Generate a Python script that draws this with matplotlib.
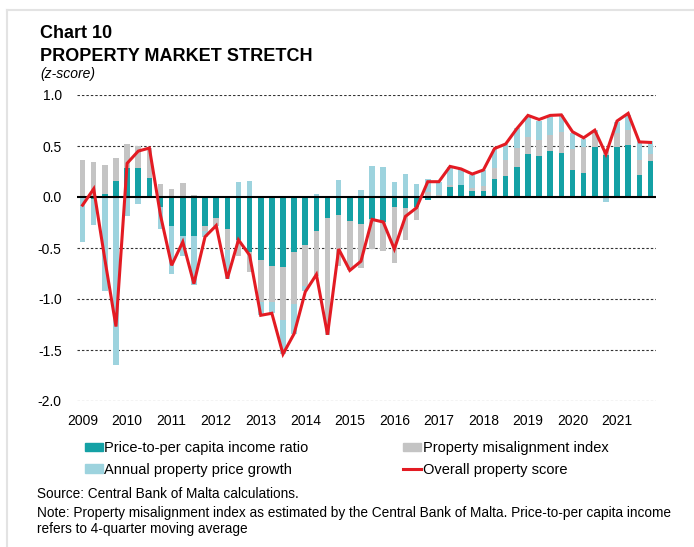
import matplotlib
matplotlib.use("Agg")
import matplotlib.pyplot as plt
import numpy as np
from matplotlib.patches import Patch
from matplotlib.lines import Line2D

plt.rcParams['font.family'] = ['Liberation Sans', 'DejaVu Sans']

years = list(range(2009, 2022))
quarters = [f"{y}Q{q}" for y in years for q in range(1, 5)]

price_income = [0.00, -0.02, 0.03, 0.16, 0.28, 0.28, 0.19, -0.10,
                -0.28, -0.38, -0.385, -0.28, -0.21, -0.31, -0.42, -0.54,
                -0.62, -0.68, -0.69, -0.54, -0.47, -0.33, -0.21, -0.18,
                -0.235, -0.26, -0.22, -0.245, -0.095, -0.105, -0.095, -0.03,
                0.01, 0.094, 0.12, 0.055, 0.06, 0.175, 0.21, 0.29,
                0.42, 0.40, 0.45, 0.435, 0.265, 0.24, 0.49, 0.41,
                0.49, 0.51, 0.22, 0.355]
misalignment = [0.36, 0.34, 0.28, 0.22, 0.24, 0.22, 0.29, 0.13,
                0.075, 0.14, 0.016, -0.05, -0.065, -0.21, -0.16, -0.20,
                -0.41, -0.35, -0.52, -0.51, -0.40, -0.44, -1.14, -0.50,
                -0.48, -0.435, -0.29, -0.285, -0.555, -0.32, -0.13, 0.045,
                0.01, 0.023, 0.0, 0.03, 0.05, 0.105, 0.155, 0.19,
                0.17, 0.155, 0.16, 0.20, 0.21, 0.25, 0.135, 0.06,
                0.135, 0.15, 0.145, 0.065]
price_growth = [-0.44, -0.25, -0.92, -1.65, -0.19, -0.07, 0.0, -0.21,
                -0.47, -0.20, -0.48, -0.06, -0.01, -0.28, 0.15, 0.16,
                -0.13, -0.11, -0.33, -0.29, -0.05, 0.03, 0.0, 0.17,
                0.0, 0.07, 0.30, 0.29, 0.15, 0.23, 0.13, 0.13,
                0.13, 0.18, 0.15, 0.13, 0.15, 0.195, 0.155, 0.195,
                0.20, 0.195, 0.17, 0.17, 0.15, 0.08, 0.03, -0.05,
                0.115, 0.14, 0.18, 0.125]
overall = [-0.08, 0.08, -0.61, -1.27, 0.33, 0.45, 0.48, -0.18,
           -0.67, -0.44, -0.85, -0.39, -0.28, -0.80, -0.42, -0.57,
           -1.16, -1.14, -1.54, -1.34, -0.93, -0.76, -1.35, -0.51,
           -0.72, -0.63, -0.22, -0.245, -0.51, -0.19, -0.105, 0.15,
           0.15, 0.30, 0.275, 0.225, 0.265, 0.475, 0.52, 0.67,
           0.80, 0.76, 0.80, 0.805, 0.64, 0.58, 0.655, 0.42,
           0.745, 0.82, 0.54, 0.535]

series_names = ["Price-to-per capita income ratio", "Property misalignment index",
                "Annual property price growth", "Overall property score"]
c_teal = "#14A1A5"
c_grey = "#C4C4C4"
c_lblue = "#9DD3DE"
c_red = "#E31B23"

fig = plt.figure(figsize=(6.94, 5.47), dpi=100)
ax = fig.add_axes([77/694, 1 - 401/547, (656 - 77)/694, (401 - 95)/547])

x = np.arange(len(quarters))
comps = [np.array(price_income), np.array(misalignment), np.array(price_growth)]
cols = [c_teal, c_grey, c_lblue]
pos_base = np.zeros(len(x))
neg_base = np.zeros(len(x))
w = 0.5
for vals, col in zip(comps, cols):
    pos = np.where(vals > 0, vals, 0)
    neg = np.where(vals < 0, vals, 0)
    ax.bar(x, pos, w, bottom=pos_base, color=col, zorder=2, linewidth=0)
    ax.bar(x, neg, w, bottom=neg_base, color=col, zorder=2, linewidth=0)
    pos_base += pos
    neg_base += neg

ax.plot(x, overall, color=c_red, lw=2.2, zorder=4, solid_joinstyle='miter')

for yv in [1.0, 0.5, -0.5, -1.0, -1.5, -2.0]:
    ax.axhline(yv, color="#333333", lw=0.8, ls=(0, (2.2, 1.8)), zorder=1)
ax.axhline(0, color="black", lw=1.5, zorder=3)

ax.set_xlim(-0.5, len(x) - 0.5)
ax.set_ylim(-2.0, 1.0)
yt = [1.0, 0.5, 0.0, -0.5, -1.0, -1.5, -2.0]
ax.set_yticks(yt)
ax.set_yticklabels([f"{v:.1f}" for v in yt])
ax.set_xticks(np.arange(0, len(x), 4))
ax.set_xticklabels([str(y) for y in years])
ax.tick_params(axis='both', length=0, labelsize=10, colors='black')
ax.tick_params(axis='y', pad=11)
ax.tick_params(axis='x', pad=9.5)
for s in ax.spines.values():
    s.set_visible(False)

fig.text(40/694, 1 - 38/547, "Chart 10", fontsize=13, fontweight='bold', va='baseline')
fig.text(40/694, 1 - 61/547, "PROPERTY MARKET STRETCH", fontsize=13, fontweight='bold', va='baseline')
fig.text(40/694, 1 - 78/547, "(z-score)", fontsize=10, fontstyle='italic', va='baseline')

handles = [Patch(color=c_teal), Patch(color=c_lblue), Patch(color=c_grey),
           Line2D([0], [0], color=c_red, lw=2.2)]
labels = [series_names[0], series_names[2], series_names[1], series_names[3]]
fig.legend(handles, labels, ncol=2, loc='upper left', bbox_to_anchor=(85/694, 1 - 441/547),
           frameon=False, fontsize=10.5, handlelength=1.2, handleheight=0.5,
           handletextpad=0.12, columnspacing=6.5, labelspacing=0.52, borderpad=0,
           borderaxespad=0)

fig.text(37/694, 1 - 493.5/547, "Source: Central Bank of Malta calculations.", fontsize=9.85, va='center')
fig.text(37/694, 1 - 513.5/547,
         "Note: Property misalignment index as estimated by the Central Bank of Malta. Price-to-per capita income",
         fontsize=9.85, va='center')
fig.text(37/694, 1 - 529.5/547, "refers to 4-quarter moving average", fontsize=9.85, va='center')

fig.add_artist(Line2D([7/694, 7/694], [0, 1 - 10/547], color="#E3E3E3", lw=1.5))
fig.add_artist(Line2D([7/694, 1], [1 - 10/547, 1 - 10/547], color="#E3E3E3", lw=1.5))

fig.savefig("out.png", dpi=100)
